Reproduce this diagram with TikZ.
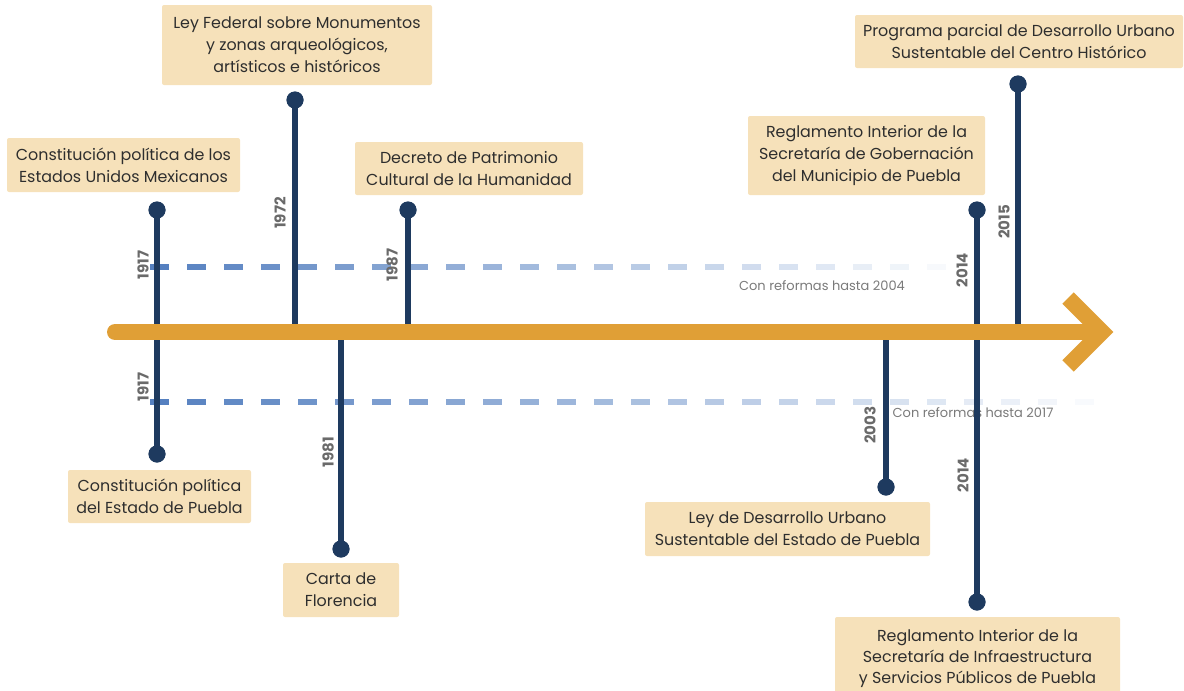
\documentclass[tikz,border=0pt]{standalone}
\usepackage{fontspec}
\setmainfont{Poppins}
\definecolor{barc}{HTML}{E09F36}
\definecolor{navy}{HTML}{1E3A5F}
\definecolor{boxc}{HTML}{F6E1BA}
\definecolor{txt}{HTML}{2E2E2E}
\definecolor{yr}{HTML}{6A6A6A}
\definecolor{dashc}{HTML}{5580C0}
\definecolor{notec}{HTML}{7A7A7A}
\tikzset{
  lbl/.style={fill=boxc, rounded corners=2pt, align=center, text=txt,
    font=\fontsize{15.9}{22}\selectfont, inner sep=0pt},
  dot/.style={circle, fill=navy, minimum size=17pt, inner sep=0pt},
  stem/.style={navy, line width=5.5pt},
  yearlbl/.style={rotate=90, text=yr, font=\fontsize{15}{15}\selectfont\bfseries, inner sep=0pt},
  note/.style={text=notec, font=\fontsize{13}{13}\selectfont, inner sep=0pt},
  dashseg/.style={line width=5.5pt},
  barline/.style={barc, line width=16pt}
}
\begin{document}
\begin{tikzpicture}[x=1pt,y=-1pt]
\useasboundingbox (0,0) rectangle (1184,691);
% fading dashed lines
\foreach \k in {0,...,21}{
  \pgfmathsetmacro\p{100-100*\k/22}
  \draw[dashseg, dashc!\p!white] (150+37*\k,267) -- ++(19,0);
}
\foreach \k in {0,...,25}{
  \pgfmathsetmacro\p{100-100*\k/26}
  \draw[dashseg, dashc!\p!white] (150+37*\k,402) -- ++(19,0);
}
% notes
\node[note] (n1) at (822,286) {Con reformas hasta 2004};
\node[note] (n2) at (973,413) {Con reformas hasta 2017};
% bar coordinates
\coordinate (bstart) at (115,332);
\coordinate (bend) at (1100,332);
\coordinate (b1) at (157,332);
\coordinate (b2) at (295,332);
\coordinate (b3) at (408,332);
\coordinate (b4) at (341,332);
\coordinate (b5) at (886,332);
\coordinate (b6) at (977,332);
\coordinate (b7) at (1018,332);
% dots
\node[dot] (d1) at (157,210) {};
\node[dot] (d2) at (157,454) {};
\node[dot] (d3) at (295,100) {};
\node[dot] (d4) at (408,210) {};
\node[dot] (d5) at (341,549) {};
\node[dot] (d6) at (886,487) {};
\node[dot] (d7) at (977,210) {};
\node[dot] (d8) at (977,602) {};
\node[dot] (d9) at (1018,84) {};
% stems
\draw[stem] (d1.center) -- (b1);
\draw[stem] (b1) -- (d2.center);
\draw[stem] (d3.center) -- (b2);
\draw[stem] (d4.center) -- (b3);
\draw[stem] (b4) -- (d5.center);
\draw[stem] (b5) -- (d6.center);
\draw[stem] (d7.center) -- (b6);
\draw[stem] (b6) -- (d8.center);
\draw[stem] (d9.center) -- (b7);
% redraw dots on top
\foreach \d in {d1,d2,d3,d4,d5,d6,d7,d8,d9}{\fill[navy] (\d.center) circle (8.5);}
% main bar and arrow
\draw[barline, line cap=round] (bstart) -- (bend);
\coordinate (tip) at (1102,332);
\draw[barline, line cap=butt, line join=miter] (1068,298) -- (tip) -- (1068,366);
% years
\node[yearlbl] (y1) at (143,265) {1917};
\node[yearlbl] (y2) at (143,387) {1917};
\node[yearlbl] (y3) at (280,213) {1972};
\node[yearlbl] (y4) at (392,265) {1987};
\node[yearlbl] (y5) at (328,452) {1981};
\node[yearlbl] (y6) at (870,425) {2003};
\node[yearlbl] (y7) at (962,270) {2014};
\node[yearlbl] (y8) at (963,475) {2014};
\node[yearlbl] (y9) at (1004,222) {2015};
% labels
\node[lbl, minimum width=233, minimum height=54] (A) at (123.5,165) {Constitución política de los\\Estados Unidos Mexicanos};
\node[lbl, minimum width=270, minimum height=80] (B) at (297,45) {Ley Federal sobre Monumentos\\y zonas arqueológicos,\\artísticos e históricos};
\node[lbl, minimum width=228, minimum height=53] (C) at (469,168.5) {Decreto de Patrimonio\\Cultural de la Humanidad};
\node[lbl, minimum width=183, minimum height=53] (D) at (159.5,496.5) {Constitución política\\del Estado de Puebla};
\node[lbl, minimum width=116, minimum height=54] (E) at (341,590) {Carta de\\Florencia};
\node[lbl, minimum width=285, minimum height=82, font=\fontsize{15.9}{21}\selectfont] (G) at (977.5,658) {Reglamento Interior de la\\Secretaría de Infraestructura\\y Servicios Públicos de Puebla};
\node[lbl, minimum width=237, minimum height=79] (H) at (866.5,155.5) {Reglamento Interior de la\\Secretaría de Gobernación\\del Municipio de Puebla};
\node[lbl, minimum width=328, minimum height=53] (I) at (1019,41.5) {Programa parcial de Desarrollo Urbano\\Sustentable del Centro Histórico};
\node[lbl, minimum width=285, minimum height=54] (F) at (787.5,529) {Ley de Desarrollo Urbano\\Sustentable del Estado de Puebla};
\end{tikzpicture}
\end{document}
